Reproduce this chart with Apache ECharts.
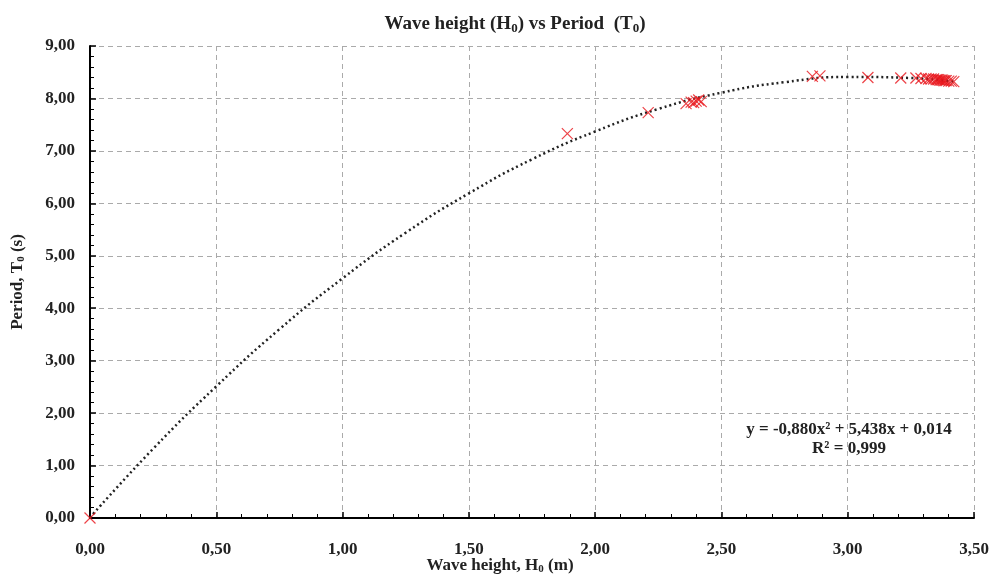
<!DOCTYPE html>
<html><head><meta charset="utf-8">
<script src="https://cdn.jsdelivr.net/npm/echarts@6/dist/echarts.min.js"></script>
<style>html,body{margin:0;padding:0;background:#fff}#c{width:990px;height:578px}</style>
</head><body><div id="c"></div>
<script>
// Observed data: wave height H0 (m) and period T0 (s)
const waveHeight = [0, 1.89, 2.21, 2.36, 2.38, 2.39, 2.40, 2.41, 2.42, 2.86, 2.89, 3.08, 3.21, 3.27, 3.29,
  3.31, 3.32, 3.33, 3.34, 3.35, 3.355, 3.36, 3.365, 3.37, 3.375, 3.38, 3.385, 3.39, 3.40, 3.41, 3.42];
const period = [0, 7.33, 7.73, 7.90, 7.93, 7.92, 7.95, 7.97, 7.94, 8.42, 8.43, 8.40, 8.39, 8.39, 8.38,
  8.38, 8.37, 8.37, 8.37, 8.36, 8.36, 8.36, 8.35, 8.35, 8.35, 8.34, 8.34, 8.34, 8.33, 8.33, 8.32];
// Trendline
const trendX = [0, 0.25, 0.5, 0.75, 1.0, 1.25, 1.5, 1.75, 2.0, 2.25, 2.5, 2.75, 3.0, 3.25, 3.42];
const trendY = [0.01, 1.32, 2.51, 3.60, 4.57, 5.44, 6.19, 6.84, 7.37, 7.80, 8.11, 8.31, 8.41, 8.39, 8.32];
const xTicks = {min: 0, max: 3.5, interval: 0.5};
const yTicks = {min: 0, max: 9, interval: 1};
const equationLines = ['y = -0,880x² + 5,438x + 0,014', 'R² = 0,999'];

const fmt = v => v.toFixed(2).replace('.', ',');
const serif = '"Liberation Serif", "DejaVu Serif", serif';
const chart = echarts.init(document.getElementById('c'));
const subStyle = {fontFamily: serif, fontWeight: 'bold', fontSize: 11, color: '#222', padding: [7, 0, 0, 0]};
const axisCommon = {
  axisLine: {show: true, lineStyle: {color: '#000', width: 2}},
  axisTick: {show: true, inside: true, length: 6, lineStyle: {color: '#000', width: 1.5}},
  minorTick: {show: true, splitNumber: 5, length: 4, lineStyle: {color: '#000', width: 1}},
  splitLine: {show: true, lineStyle: {color: '#aaa', type: [5, 4], width: 1}},
  axisLabel: {formatter: fmt, fontFamily: serif, fontWeight: 'bold', fontSize: 17, color: '#222'},
  nameLocation: 'middle',
  nameMoveOverlap: false
};
chart.setOption({
  animation: false,
  backgroundColor: '#fff',
  title: {
    text: 'Wave height (H{sub|0}) vs Period  (T{sub|0})',
    left: 510, top: 8, textAlign: 'center',
    textStyle: {fontFamily: serif, fontWeight: 'bold', fontSize: 19, color: '#222',
      rich: {sub: {fontFamily: serif, fontWeight: 'bold', fontSize: 13, color: '#222', padding: [9, 0, 0, 0]}}}
  },
  grid: {left: 90, right: 16, top: 46, bottom: 60, containLabel: false, outerBoundsMode: 'none'},
  xAxis: Object.assign({}, axisCommon, {
    type: 'value', min: xTicks.min, max: xTicks.max, interval: xTicks.interval,
    name: 'Wave height, H{sub|0} (m)', nameGap: 39,
    nameTextStyle: {fontFamily: serif, fontWeight: 'bold', fontSize: 17, color: '#222',
      padding: [0, 64, 0, 0], rich: {sub: subStyle}},
    axisLabel: Object.assign({}, axisCommon.axisLabel, {margin: 23})
  }),
  yAxis: Object.assign({}, axisCommon, {
    type: 'value', min: yTicks.min, max: yTicks.max, interval: yTicks.interval,
    name: 'Period, T{sub|0} (s)', nameGap: 63, nameRotate: 90,
    nameTextStyle: {fontFamily: serif, fontWeight: 'bold', fontSize: 17, color: '#222', rich: {sub: subStyle}},
    axisLabel: Object.assign({}, axisCommon.axisLabel, {margin: 15})
  }),
  series: [
    {
      type: 'line', data: trendX.map((x, i) => [x, trendY[i]]), smooth: true,
      showSymbol: false, lineStyle: {color: '#222', width: 2.5, type: [2, 3]}, z: 2
    },
    {
      type: 'scatter', data: waveHeight.map((x, i) => [x, period[i]]),
      symbol: 'path://M0,0L10,10M10,0L0,10', symbolSize: 11,
      itemStyle: {color: 'rgba(0,0,0,0)', borderColor: '#e8141a', borderWidth: 1.2}, z: 3
    }
  ],
  graphic: equationLines.map((t, i) => ({
    type: 'text', x: 849, y: 430 + i * 19, z: 10,
    style: {text: t, font: 'bold 17px ' + serif, fill: '#222', align: 'center', verticalAlign: 'middle',
      textAlign: 'center', textVerticalAlign: 'middle'}
  }))
});
</script></body></html>
